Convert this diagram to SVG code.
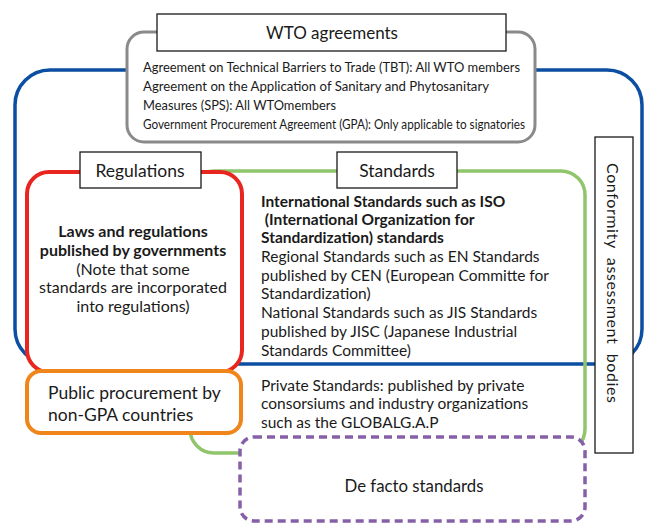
<svg xmlns="http://www.w3.org/2000/svg" width="645" height="525" viewBox="0 0 645 525">
<style>
text{font-family:Lato,"Liberation Sans",sans-serif;fill:#1a1a1a}
.lbl{fill:#fff;stroke:#1a1a1a;stroke-width:1.3}
.t16{font-size:16px}
.t17{font-size:17.5px}
.t15{font-size:15.5px}
.r{font-size:16px}
.b{font-weight:bold}
.g{font-size:13.5px}
.mid{text-anchor:middle}
</style>
<g id="blue-region"><rect x="15" y="70" width="627" height="294" rx="35" fill="none" stroke="#0b4ea2" stroke-width="3.5"/></g>
<g id="standards">
<rect x="190" y="171" width="395" height="282" rx="24" fill="none" stroke="#90c56c" stroke-width="3.5"/>
<rect class="lbl" x="337" y="152" width="120" height="36"/>
<text class="t17 mid" x="397" y="177">Standards</text>
<text class="t15 b" x="261" y="207">International Standards such as ISO</text>
<text class="t15 b" x="261" y="225" xml:space="preserve"> (International Organization for</text>
<text class="t15 b" x="261" y="243">Standardization) standards</text>
<text class="t15" x="261" y="262">Regional Standards such as EN Standards</text>
<text class="t15" x="261" y="281">published by CEN (European Committe for</text>
<text class="t15" x="261" y="299">Standardization)</text>
<text class="t15" x="261" y="318">National Standards such as JIS Standards</text>
<text class="t15" x="261" y="337">published by JISC (Japanese Industrial</text>
<text class="t15" x="261" y="356">Standards Committee)</text>
<text class="t15" x="261" y="391">Private Standards: published by private</text>
<text class="t15" x="261" y="409">consorsiums and industry organizations</text>
<text class="t15" x="261" y="428">such as the GLOBALG.A.P</text>
</g>
<g id="regulations">
<rect x="27" y="172" width="215" height="200" rx="22" fill="#fff" stroke="#e8261f" stroke-width="4"/>
<rect class="lbl" x="80" y="152" width="121" height="36"/>
<text class="t17 mid" x="140" y="177">Regulations</text>
<text class="r b mid" x="133" y="237">Laws and regulations</text>
<text class="r b mid" x="133" y="256">published by governments</text>
<text class="r mid" x="133" y="275">(Note that some</text>
<text class="r mid" x="133" y="293">standards are incorporated</text>
<text class="r mid" x="133" y="312">into regulations)</text>
</g>
<g id="public-procurement">
<rect x="27" y="371" width="214" height="62" rx="14" fill="#fff" stroke="#f08519" stroke-width="4"/>
<text class="t17" x="48" y="399">Public procurement by</text>
<text class="t17" x="48" y="421">non-GPA countries</text>
</g>
<g id="de-facto">
<rect x="240" y="437" width="345" height="84" rx="14" fill="#fff" stroke="#8560a8" stroke-width="3.5" stroke-dasharray="8 5"/>
<text class="mid" style="font-size:16.8px" x="414" y="492">De facto standards</text>
</g>
<g id="wto">
<rect x="127" y="32" width="408" height="110" rx="17" fill="#fff" stroke="#8a8a8a" stroke-width="3"/>
<rect class="lbl" x="157" y="14" width="349" height="37"/>
<text class="mid" style="font-size:17px" x="332" y="39">WTO agreements</text>
<text class="g" x="143" y="72" textLength="377" lengthAdjust="spacingAndGlyphs">Agreement on Technical Barriers to Trade (TBT): All WTO members</text>
<text class="g" x="143" y="91" textLength="346" lengthAdjust="spacingAndGlyphs">Agreement on the Application of Sanitary and Phytosanitary</text>
<text class="g" x="143" y="110" textLength="193" lengthAdjust="spacingAndGlyphs">Measures (SPS): All WTOmembers</text>
<text class="g" x="143" y="129" textLength="382" lengthAdjust="spacingAndGlyphs">Government Procurement Agreement (GPA): Only applicable to signatories</text>
</g>
<g id="conformity">
<rect class="lbl" x="595" y="137" width="38" height="316"/>
<text class="t16" transform="translate(607 163) rotate(90)" xml:space="preserve" textLength="240">Conformity  assessment  bodies</text>
</g>
<g id="connectors"></g>
</svg>
